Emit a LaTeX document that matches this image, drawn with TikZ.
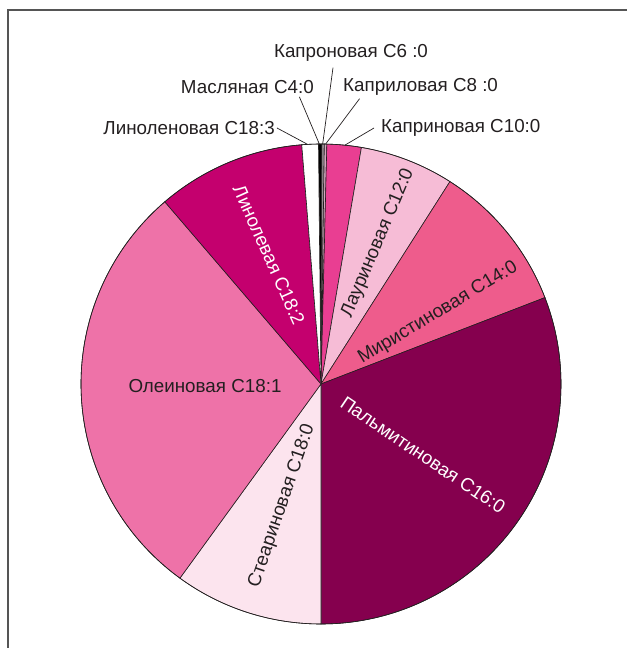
\documentclass[tikz,border=0pt]{standalone}
\usepackage{fontspec}
\setmainfont{Liberation Sans}
\usepackage{tikz}
\usetikzlibrary{calc}

\definecolor{textgray}{RGB}{35,31,32}
\definecolor{framegray}{RGB}{85,85,85}
\definecolor{caprinc}{RGB}{233,62,146}
\definecolor{lauric}{RGB}{246,188,214}
\definecolor{myristic}{RGB}{238,92,140}
\definecolor{palmitic}{RGB}{133,0,78}
\definecolor{stearic}{RGB}{252,228,238}
\definecolor{oleic}{RGB}{238,114,168}
\definecolor{linoleic}{RGB}{196,0,110}
\definecolor{caproic}{RGB}{150,140,146}
\definecolor{caprylic}{RGB}{210,168,190}

\begin{document}
\begin{tikzpicture}[x=1pt,y=1pt,
        slice/.style={draw=textgray, line width=0.6pt},
        lbl/.style={font=\fontsize{18.8}{21}\selectfont, text=textgray, inner sep=0pt},
        leader/.style={draw=textgray, line width=0.7pt}]
        \useasboundingbox (0,0) rectangle (627,648);
        \draw[framegray, line width=1.3pt] (8,0) -- (8,638) -- (627,638);

        \coordinate (o) at (321,264);

        \filldraw[slice, fill=black] (o) -- ++(90.6:240) arc[start angle=90.6, end angle=89.8, radius=240] -- cycle;
        \filldraw[slice, fill=caproic] (o) -- ++(89.8:240) arc[start angle=89.8, end angle=89.2, radius=240] -- cycle;
        \filldraw[slice, fill=caprylic] (o) -- ++(89.2:240) arc[start angle=89.2, end angle=88.6, radius=240] -- cycle;
        \filldraw[slice, fill=caprinc] (o) -- ++(88.6:240) arc[start angle=88.6, end angle=80.3, radius=240] -- cycle;
        \filldraw[slice, fill=lauric] (o) -- ++(80.3:240) arc[start angle=80.3, end angle=57.5, radius=240] -- cycle;
        \filldraw[slice, fill=myristic] (o) -- ++(57.5:240) arc[start angle=57.5, end angle=21.1, radius=240] -- cycle;
        \filldraw[slice, fill=palmitic] (o) -- ++(21.1:240) arc[start angle=21.1, end angle=-90, radius=240] -- cycle;
        \filldraw[slice, fill=stearic] (o) -- ++(-90:240) arc[start angle=-90, end angle=-126, radius=240] -- cycle;
        \filldraw[slice, fill=oleic] (o) -- ++(-126:240) arc[start angle=-126, end angle=-229.4, radius=240] -- cycle;
        \filldraw[slice, fill=linoleic] (o) -- ++(130.6:240) arc[start angle=130.6, end angle=94.6, radius=240] -- cycle;
        \filldraw[slice, fill=white] (o) -- ++(94.6:240) arc[start angle=94.6, end angle=90.6, radius=240] -- cycle;
        \draw[slice] (o) circle[radius=240];

        % labels inside
        \node[lbl, text=white, rotate=-66] (l182) at (269,393) {Линолевая C18:2};
        \node[lbl, rotate=67] (l12) at (378,405) {Лауриновая C12:0};
        \node[lbl, rotate=31] (l14) at (438,335) {Миристиновая C14:0};
        \node[lbl, text=white, rotate=-34] (l16) at (423,193) {Пальмитиновая C16:0};
        \node[lbl, rotate=71] (l180) at (282,142) {Стеариновая C18:0};
        \node[lbl] (l181) at (205,262) {Олеиновая C18:1};

        % labels outside
        \node[lbl] (l6) at (351,595) {Капроновая C6 :0};
        \node[lbl, anchor=east] (l4) at (314,561) {Масляная C4:0};
        \node[lbl, anchor=west] (l8) at (343,561) {Каприловая C8 :0};
        \node[lbl, anchor=west] (l10) at (381,520) {Каприновая C10:0};
        \node[lbl, anchor=east] (l183) at (275,520) {Линоленовая C18:3};

        \coordinate (p6) at ($(o)+(89.6:240)$);
        \coordinate (p4) at ($(o)+(90.4:240)$);
        \coordinate (p8) at ($(o)+(88.9:240)$);
        \coordinate (p10) at ($(o)+(84.3:240)$);
        \coordinate (p183) at ($(o)+(93.2:240)$);

        \draw[leader] ([xshift=-18pt,yshift=-6pt]l6.south) -- (p6);
        \draw[leader] ([xshift=52pt,yshift=-3pt]l4.south) -- (p4);
        \draw[leader] ([xshift=-61pt,yshift=-3pt]l8.south) -- (p8);
        \draw[leader] ([xshift=-7pt]l10.west) -- (p10);
        \draw[leader] ([xshift=2pt]l183.east) -- (p183);
    \end{tikzpicture}
\end{document}
